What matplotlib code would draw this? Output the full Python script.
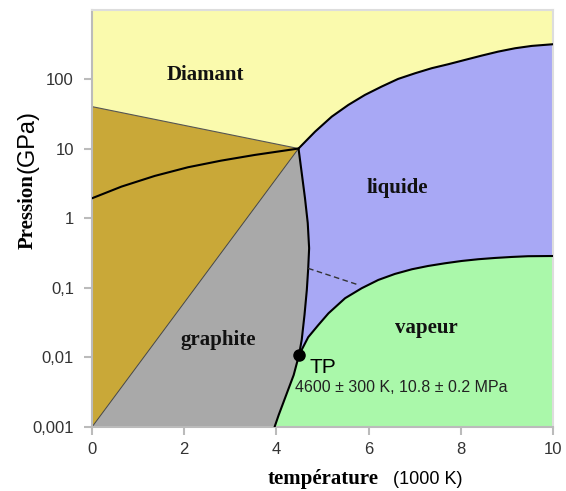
import matplotlib
matplotlib.use("Agg")
import matplotlib.pyplot as plt

# ---- data (T in 1000 K, P in GPa) ----
tp_T, tp_P = 4.49, 0.0108

# metastable region straight boundaries
diam_line_T = [0.0, 4.48]
diam_line_P = [40.0, 10.0]
graph_line_T = [0.0, 4.48]
graph_line_P = [0.001, 10.0]

# graphite-diamond equilibrium curve
gd_T = [0.0, 0.64, 1.36, 2.08, 2.80, 3.53, 4.48]
gd_P = [1.93, 2.84, 4.04, 5.38, 6.70, 8.09, 10.0]

# diamond-liquid curve
dl_T = [4.48, 4.84, 5.20, 5.56, 5.92, 6.28, 6.64, 7.01, 7.37, 7.73, 8.09, 8.45, 8.81, 9.18, 9.54, 10.0]
dl_P = [10.0, 17.5, 28.7, 42.3, 58.9, 77.5, 100.0, 120.7, 142.6, 162.7, 187.5, 216.0, 246.7, 276.0, 298.0, 315.0]

# graphite-liquid melting curve (top triple point down to TP)
melt_T = [4.48, 4.55, 4.62, 4.68, 4.71, 4.69, 4.66, 4.61, 4.55, 4.49]
melt_P = [10.0, 4.42, 1.94, 0.85, 0.37, 0.19, 0.093, 0.041, 0.018, 0.0108]

# sublimation curve (TP down to bottom)
sub_T = [4.49, 4.375, 4.267, 4.158, 4.05, 3.96]
sub_P = [0.0108, 0.00558, 0.0036, 0.00231, 0.00149, 0.001]

# liquid-vapour curve
vap_T = [4.49, 4.69, 4.91, 5.13, 5.49, 5.85, 6.21, 6.57, 6.94, 7.29, 7.66, 8.02, 8.38, 8.74, 9.10, 9.46, 10.0]
vap_P = [0.0108, 0.0195, 0.0292, 0.043, 0.0708, 0.0985, 0.1295, 0.158, 0.1845, 0.2056, 0.225,
         0.2427, 0.257, 0.268, 0.277, 0.284, 0.286]

# metastable dashed extension
dash_T = [4.69, 5.78]
dash_P = [0.19, 0.11]

xticks = [0, 2, 4, 6, 8, 10]
yticks = [0.001, 0.01, 0.1, 1, 10, 100]
ytick_labels = ["0,001", "0,01", "0,1", "1", "10", "100"]

# ---- figure ----
W, H = 566, 491
fig = plt.figure(figsize=(W / 100, H / 100), dpi=100)
ax = fig.add_axes([92 / W, 1 - 427 / H, (553 - 92) / W, (427 - 10) / H])
ax.set_yscale("log")
ax.set_xlim(0, 10)
ax.set_ylim(0.001, 10 ** 2.99)

c_yel = "#FAFAAD"
c_gold = "#C9A838"
c_gray = "#A9A9A9"
c_blue = "#A8A8F5"
c_green = "#AAF8AA"
ax.set_facecolor(c_yel)

ymin, ymax = ax.get_ylim()
xmin, xmax = ax.get_xlim()

# gold region
ax.fill([diam_line_T[0], diam_line_T[1], graph_line_T[0]],
        [diam_line_P[0], diam_line_P[1], graph_line_P[0]], color=c_gold, lw=0, zorder=1)
# graphite region
gx = [graph_line_T[0]] + melt_T + sub_T[1:]
gy = [graph_line_P[0]] + melt_P + sub_P[1:]
ax.fill(gx, gy, color=c_gray, lw=0, zorder=1)
# liquid region
lx = dl_T + [xmax] + vap_T[::-1] + melt_T[::-1]
ly = dl_P + [vap_P[-1]] + vap_P[::-1] + melt_P[::-1]
ax.fill(lx, ly, color=c_blue, lw=0, zorder=1)
# vapour region
vx = vap_T + [xmax, sub_T[-1]] + sub_T[::-1]
vy = vap_P + [ymin, ymin] + sub_P[::-1]
ax.fill(vx, vy, color=c_green, lw=0, zorder=1)

# boundaries
ax.plot(diam_line_T, diam_line_P, color="#555555", lw=0.8, zorder=2)
ax.plot(graph_line_T, graph_line_P, color="#444444", lw=0.7, zorder=2)
for tx, py in [(gd_T, gd_P), (dl_T, dl_P), (melt_T, melt_P), (sub_T, sub_P), (vap_T, vap_P)]:
    ax.plot(tx, py, color="black", lw=1.5, zorder=3, solid_capstyle="round",
            solid_joinstyle="round")
ax.plot(dash_T, dash_P, color="#333333", lw=1.0, ls=(0, (4, 2.5)), zorder=3)
ax.plot([tp_T], [tp_P], "o", color="black", ms=8, zorder=4)

# labels in regions
serif = dict(family="Liberation Serif", weight="bold", fontsize=15, color="#111111")
ax.text(2.47, 10 ** (2 - (75 - 79) / 69.6), "Diamant", ha="center", va="center", zorder=5, **serif)
ax.text(6.62, 10 ** (2 - (188 - 79) / 69.6), "liquide", ha="center", va="center", zorder=5, **serif)
ax.text(2.73, 10 ** (2 - (340 - 79) / 69.6), "graphite", ha="center", va="center", zorder=5, **serif)
ax.text(7.25, 10 ** (2 - (328 - 79) / 69.6), "vapeur", ha="center", va="center", zorder=5, **serif)

fig.text(310 / W, 1 - 373 / H, "TP", family="Liberation Sans", fontsize=15, ha="left", va="baseline")
fig.text(295 / W, 1 - 392 / H, "4600 ± 300 K, 10.8 ± 0.2 MPa", family="Liberation Sans",
         fontsize=11.5, ha="left", va="baseline", color="#222222")

# axes styling
for s in ["left", "bottom"]:
    ax.spines[s].set_color("#BBBBBB")
    ax.spines[s].set_linewidth(1.5)
for s in ["top", "right"]:
    ax.spines[s].set_color("#DDDDDD")
    ax.spines[s].set_linewidth(1.5)
ax.set_xticks(xticks)
ax.set_xticklabels([str(t) for t in xticks])
ax.set_yticks(yticks)
ax.set_yticklabels(ytick_labels)
ax.yaxis.set_minor_locator(matplotlib.ticker.NullLocator())
ax.tick_params(axis="both", direction="out", length=6, width=1.5, color="#BBBBBB",
               labelsize=12, labelcolor="#333333")
ax.tick_params(axis="y", pad=7)
ax.tick_params(axis="x", pad=5)
for lab in ax.get_xticklabels() + ax.get_yticklabels():
    lab.set_family("Liberation Sans")

# axis titles (mixed fonts)
fig.text(268 / W, 1 - 484 / H, "température", family="Liberation Serif", weight="bold",
         fontsize=15, ha="left", va="baseline")
fig.text(393 / W, 1 - 484 / H, "(1000 K)", family="Liberation Sans", fontsize=13,
         ha="left", va="baseline")
fig.text(33 / W, 1 - 249 / H, "Pression", family="Liberation Serif", weight="bold",
         fontsize=15, ha="left", va="baseline", rotation=90, rotation_mode="anchor")
fig.text(33 / W, 1 - 173 / H, "(GPa)", family="Liberation Sans", fontsize=17,
         ha="left", va="baseline", rotation=90, rotation_mode="anchor")

fig.savefig("out.png", dpi=100)
